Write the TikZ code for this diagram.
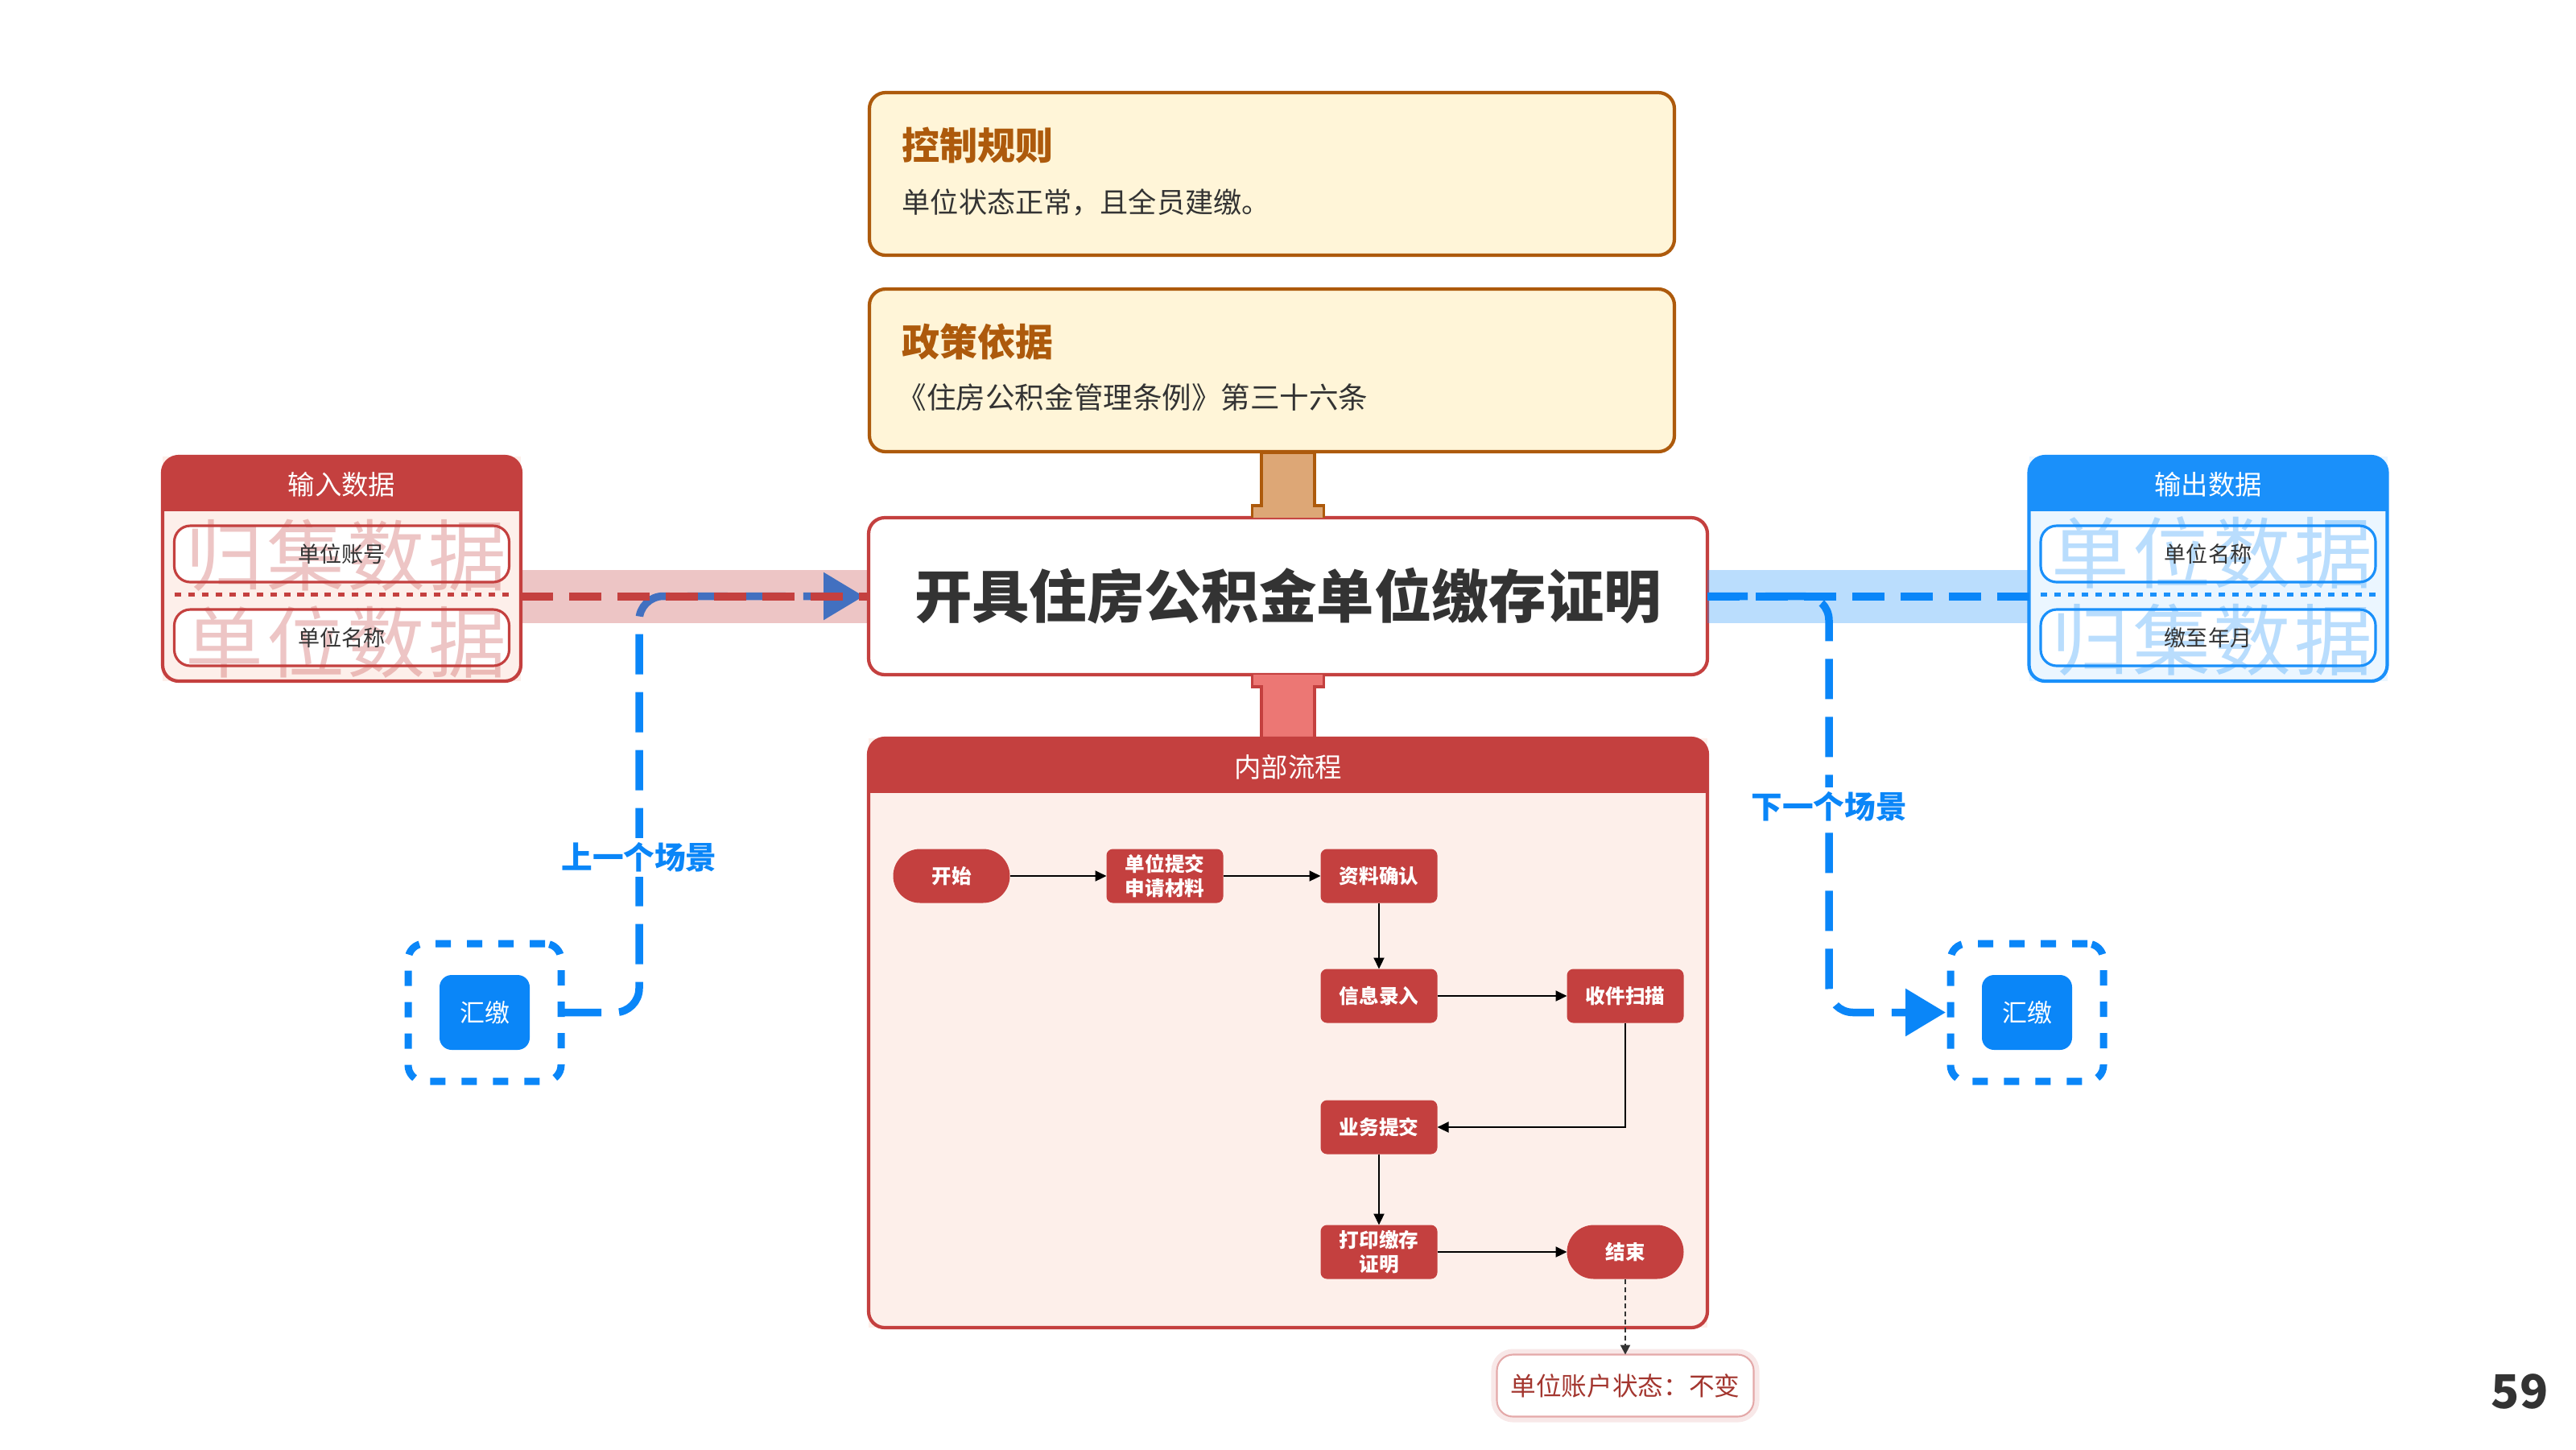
\documentclass[tikz,border=0pt]{standalone}
\usepackage{fontspec}
\setmainfont{Noto Sans CJK SC}
\usepackage{xcolor}
\usetikzlibrary{arrows.meta,positioning,calc}

\definecolor{ruleedge}{HTML}{AD5A0C}
\definecolor{rulefill}{HTML}{FFF5D8}
\definecolor{rulestub}{HTML}{DDA776}
\definecolor{procred}{HTML}{C4403F}
\definecolor{procstub}{HTML}{EC7774}
\definecolor{procfill}{HTML}{FDEFEA}
\definecolor{outblue}{HTML}{1A90FA}
\definecolor{outfill}{HTML}{EBF6FF}
\definecolor{scenblue}{HTML}{0A86F8}
\definecolor{inktext}{HTML}{333333}
\definecolor{notered}{HTML}{A3362F}

\tikzset{
  rulebox/.style={draw=ruleedge, fill=rulefill, line width=1.2pt, rounded corners=0.2cm,
    minimum width=10.0cm, minimum height=2.02cm, outer sep=0pt},
  ruletitle/.style={text=ruleedge, font=\fontsize{13.4}{16}\selectfont\bfseries, inner sep=0pt},
  ruletext/.style={text=inktext, font=\fontsize{10}{12}\selectfont, inner sep=0pt},
  mainbox/.style={draw=procred, fill=white, line width=1.2pt, rounded corners=0.2cm,
    minimum width=10.42cm, minimum height=1.95cm, outer sep=0pt, text=inktext,
    font=\fontsize{20.3}{24}\selectfont\bfseries},
  databox/.style={minimum width=4.45cm, minimum height=2.79cm, inner sep=0pt, outer sep=0pt},
  itembox/.style={draw, fill=white, line width=0.9pt, rounded corners=0.2cm,
    minimum width=4.16cm, minimum height=0.70cm, outer sep=0pt},
  watermark/.style={text opacity=0.3, font=\fontsize{27.5}{30}\selectfont\addfontfeature{LetterSpace=4}, inner sep=0pt},
  itemtext/.style={text=inktext, font=\fontsize{7.7}{9}\selectfont, inner sep=0pt},
  headtext/.style={text=white, font=\fontsize{9.5}{11}\selectfont, inner sep=0pt},
  flowstep/.style={fill=procred, text=white, rounded corners=0.08cm, minimum width=1.45cm,
    minimum height=0.67cm, inner sep=0pt, outer sep=0pt, align=center,
    font=\fontsize{7}{8.5}\selectfont\bfseries},
  flowend/.style={flowstep, rounded corners=0.335cm},
  flowline/.style={draw=black, line width=0.6pt, -{Triangle[length=0.14cm,width=0.13cm]}},
  notelink/.style={draw=inktext, line width=0.6pt, dash pattern=on 0.06cm off 0.04cm,
    -{Triangle[length=0.12cm,width=0.12cm]}},
  notebox/.style={draw=procred!45, fill=white, line width=0.6pt, rounded corners=0.2cm,
    minimum width=3.19cm, minimum height=0.77cm, outer sep=0pt, text=notered,
    font=\fontsize{9}{11}\selectfont,
    preaction={draw=procred, draw opacity=0.12, line width=4pt}},
  scenepath/.style={draw=scenblue, line width=0.095cm, dash pattern=on 0.5cm off 0.22cm,
    rounded corners=0.3cm},
  datadash/.style={line width=0.1cm, dash pattern=on 0.4cm off 0.2cm},
  sumframe/.style={draw=scenblue, line width=0.09cm, dash pattern=on 0.19cm off 0.2cm,
    rounded corners=0.2cm, minimum width=1.9cm, minimum height=1.71cm, outer sep=0pt},
  sumbox/.style={fill=scenblue, text=white, rounded corners=0.15cm, minimum width=1.12cm,
    minimum height=0.93cm, font=\fontsize{8.8}{10}\selectfont},
  scenelabel/.style={fill=white, text=scenblue, font=\fontsize{11}{13}\selectfont\bfseries,
    inner sep=1.5pt},
}

\begin{document}
\begin{tikzpicture}
  \useasboundingbox (0,0) rectangle (32,-18);

  % rule and policy boxes
  \node[rulebox] (rule) at (15.80,-2.16) {};
  \node[ruletitle, anchor=west] (ruleT) at (11.20,-1.80) {控制规则};
  \node[ruletext, anchor=west] (ruleB) at (11.20,-2.51) {单位状态正常，且全员建缴。};
  \node[rulebox] (policy) at (15.80,-4.60) {};
  \node[ruletitle, anchor=west] (policyT) at (11.20,-4.24) {政策依据};
  \node[ruletext, anchor=west, font=\fontsize{10.4}{12}\selectfont] (policyB) at (11.14,-4.94) {《住房公积金管理条例》第三十六条};

  % main scene
  \node[mainbox] (main) at (16.0,-7.405) {开具住房公积金单位缴存证明};
  \draw[draw=ruleedge, fill=rulestub, line width=1pt] ([xshift=-0.445cm]main.north) -- ++(0,0.15) -- ++(0.115,0)
    -- ++(0,0.66) -- ++(0.66,0) -- ++(0,-0.66) -- ++(0.115,0) -- ++(0,-0.15);
  \draw[draw=procred, fill=procstub, line width=1pt] ([xshift=-0.445cm]main.south) -- ++(0,-0.15) -- ++(0.115,0)
    -- ++(0,-0.64) -- ++(0.66,0) -- ++(0,0.64) -- ++(0.115,0) -- ++(0,0.15);

  % data boxes and inner process box
  \node[databox, fill=procfill] (inbox) at (4.245,-7.065) {};
  \node[databox, fill=outfill] (outbox) at (27.43,-7.065) {};
  \node[minimum width=10.42cm, minimum height=7.32cm, outer sep=0pt, fill=procfill] (procbox) at (16.0,-12.83) {};
  \foreach \bx/\cl in {inbox/procred, outbox/outblue, procbox/procred} {
    \begin{scope}
      \clip[rounded corners=0.2cm] (\bx.north west) rectangle (\bx.south east);
      \fill[\cl] (\bx.north west) rectangle ([yshift=-0.68cm]\bx.north east);
    \end{scope}
    \draw[\cl, line width=1.2pt, rounded corners=0.2cm] (\bx.north west) rectangle (\bx.south east);
  }
  \node[headtext] (inT) at ([yshift=-0.35cm]inbox.north) {输入数据};
  \node[headtext] (outT) at ([yshift=-0.35cm]outbox.north) {输出数据};
  \node[headtext] (procT) at ([yshift=-0.36cm]procbox.north) {内部流程};

  \node[itembox, draw=procred] (inA) at (4.245,-6.88) {};
  \node[itembox, draw=procred] (inB) at (4.245,-7.92) {};
  \node[watermark, text=procred] (inAw) at (4.30,-6.90) {归集数据};
  \node[watermark, text=procred] (inBw) at (4.30,-7.98) {单位数据};
  \node[itemtext] (inAt) at (inA) {单位账号};
  \node[itemtext] (inBt) at (inB) {单位名称};
  \draw[procred, line width=0.05cm, dash pattern=on 0.08cm off 0.09cm] (inA.south west |- 0,-7.38) -- (inA.south east |- 0,-7.38);

  \node[itembox, draw=outblue] (outA) at (27.43,-6.88) {};
  \node[itembox, draw=outblue] (outB) at (27.43,-7.92) {};
  \node[watermark, text=outblue] (outAw) at (27.48,-6.87) {单位数据};
  \node[watermark, text=outblue] (outBw) at (27.48,-7.95) {归集数据};
  \node[itemtext] (outAt) at (outA) {单位名称};
  \node[itemtext] (outBt) at (outB) {缴至年月};
  \draw[outblue, line width=0.05cm, dash pattern=on 0.08cm off 0.09cm] (outA.south west |- 0,-7.38) -- (outA.south east |- 0,-7.38);

  % previous and next scenes
  \node[sumframe] (prevbox) at (6.02,-12.575) {};
  \node[sumbox] (prevsum) at (prevbox) {汇缴};
  \node[sumframe] (nextbox) at (25.18,-12.575) {};
  \node[sumbox] (nextsum) at (nextbox) {汇缴};
  \coordinate (prevturn) at (7.94,-7.405);
  \coordinate (nextturn) at (22.72,-12.575);

  \draw[scenepath, -{Triangle[length=0.5cm,width=0.57cm]}, shorten >=0.06cm] (prevbox.east) -| (prevturn) -- (main.west);
  \fill[procred, opacity=0.3] ($(inbox.east|-main.west)+(0,0.33)$) rectangle ($(main.west)+(0,-0.33)$);
  \draw[procred, datadash] (inbox.east|-main.west) -- (main.west);

  \fill[outblue, opacity=0.3] ($(main.east)+(0,0.33)$) rectangle ($(outbox.west|-main.east)+(0,-0.33)$);
  \draw[scenblue, datadash] (main.east) -- (outbox.west|-main.east);
  \draw[scenepath, -{Triangle[length=0.5cm,width=0.57cm]}, shorten >=0.06cm] (main.east) -| (nextturn) -- (nextbox.west);

  \node[scenelabel] (prevlbl) at (7.94,-10.65) {上一个场景};
  \node[scenelabel] (nextlbl) at (22.72,-10.02) {下一个场景};

  % internal flow
  \node[flowend] (start) at (11.82,-10.88) {开始};
  \node[flowstep, right=1.2cm of start] (submit) {单位提交\\申请材料};
  \node[flowstep, right=1.21cm of submit] (confirm) {资料确认};
  \node[flowstep, below=0.82cm of confirm] (entry) {信息录入};
  \node[flowstep, right=1.61cm of entry] (scan) {收件扫描};
  \node[flowstep, below=0.96cm of entry] (bizsub) {业务提交};
  \node[flowstep, below=0.88cm of bizsub] (print) {打印缴存\\证明};
  \node[flowend, right=1.61cm of print] (finish) {结束};
  \node[notebox, below=0.94cm of finish] (note) {单位账户状态：不变};

  \draw[flowline] (start) -- (submit);
  \draw[flowline] (submit) -- (confirm);
  \draw[flowline] (confirm) -- (entry);
  \draw[flowline] (entry) -- (scan);
  \draw[flowline] (scan) |- (bizsub);
  \draw[flowline] (bizsub) -- (print);
  \draw[flowline] (print) -- (finish);
  \draw[notelink] (finish) -- (note);

  \node[text=inktext, font=\fontsize{16.5}{18}\selectfont\bfseries] (pageno) at (31.3,-17.28) {59};
\end{tikzpicture}
\end{document}
